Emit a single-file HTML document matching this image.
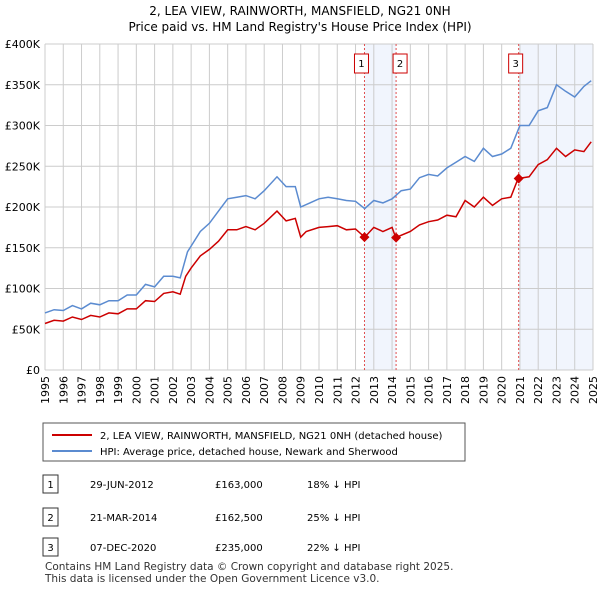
<!DOCTYPE html>
<html><head><meta charset="utf-8"><style>
body{margin:0;background:#fff;font-family:"Liberation Sans","DejaVu Sans",sans-serif;}
svg text{font-family:"DejaVu Sans","Liberation Sans",sans-serif;}
</style></head><body>
<svg id="chart" width="600" height="590" viewBox="0 0 600 590" xmlns="http://www.w3.org/2000/svg">
<text x="300" y="15" text-anchor="middle" font-size="12">2, LEA VIEW, RAINWORTH, MANSFIELD, NG21 0NH</text>
<text x="300" y="31" text-anchor="middle" font-size="12">Price paid vs. HM Land Registry's House Price Index (HPI)</text>
<g id="plot"></g>
<g>
<rect x="43" y="423" width="422" height="38" fill="#fff" stroke="#555"/>
<line x1="52" y1="435" x2="92" y2="435" stroke="#cc0000" stroke-width="2"/>
<text x="100" y="439" font-size="10">2, LEA VIEW, RAINWORTH, MANSFIELD, NG21 0NH (detached house)</text>
<line x1="52" y1="451" x2="92" y2="451" stroke="#5b8bd0" stroke-width="2"/>
<text x="100" y="455" font-size="10">HPI: Average price, detached house, Newark and Sherwood</text>
</g>
<g id="table"></g>
<text x="45" y="570" font-size="10.5" fill="#333">Contains HM Land Registry data © Crown copyright and database right 2025.</text>
<text x="45" y="582" font-size="10.5" fill="#333">This data is licensed under the Open Government Licence v3.0.</text>
</svg>
<script>
const hpiX=[1995,1995.5,1996,1996.5,1997,1997.5,1998,1998.5,1999,1999.5,2000,2000.5,2001,2001.5,2002,2002.4,2002.8,2003,2003.5,2004,2004.5,2005,2005.5,2006,2006.5,2007,2007.7,2008.2,2008.7,2009,2009.5,2010,2010.5,2011,2011.5,2012,2012.5,2013,2013.5,2014,2014.5,2015,2015.5,2016,2016.5,2017,2017.5,2018,2018.5,2019,2019.5,2020,2020.5,2021,2021.5,2022,2022.5,2023,2023.5,2024,2024.5,2024.9];
const hpiY=[70,74,73,79,75,82,80,85,85,92,92,105,102,115,115,113,145,152,170,180,195,210,212,214,210,220,237,225,225,200,205,210,212,210,208,207,198,208,205,210,220,222,236,240,238,248,255,262,256,272,262,265,272,300,300,318,322,350,342,335,348,355];
const redX=[1995,1995.5,1996,1996.5,1997,1997.5,1998,1998.5,1999,1999.5,2000,2000.5,2001,2001.5,2002,2002.4,2002.7,2003,2003.5,2004,2004.5,2005,2005.5,2006,2006.5,2007,2007.7,2008.2,2008.7,2009,2009.3,2010,2010.5,2011,2011.5,2012,2012.5,2013,2013.5,2014,2014.2,2015,2015.5,2016,2016.5,2017,2017.5,2018,2018.5,2019,2019.5,2020,2020.5,2020.9,2021.5,2022,2022.5,2023,2023.5,2024,2024.5,2024.9];
const redY=[57,61,60,65,62,67,65,70,69,75,75,85,84,94,96,93,115,125,140,148,158,172,172,176,172,180,195,183,186,163,170,175,176,177,172,173,163,175,170,175,162.5,170,178,182,184,190,188,208,200,212,202,210,212,235,237,252,258,272,262,270,268,280];
const saleX=[2012.49,2014.22,2020.93];
const saleY=[163,162.5,235];
const saleLabels=["1","2","3"];
const saleDates=["29-JUN-2012","21-MAR-2014","07-DEC-2020"];
const salePrices=["£163,000","£162,500","£235,000"];
const saleHpi=["18% ↓ HPI","25% ↓ HPI","22% ↓ HPI"];
const yTicks=[0,50,100,150,200,250,300,350,400];
const yTickLabels=["£0","£50K","£100K","£150K","£200K","£250K","£300K","£350K","£400K"];
const years=[];for(let y=1995;y<=2025;y++)years.push(y);
const NS="http://www.w3.org/2000/svg";
const L=45,R=593,T=44,B=370;
const sx=v=>L+(v-1995)/30*(R-L);
const sy=v=>B-v/400*(B-T);
function mk(tag,attrs,parent){const e=document.createElementNS(NS,tag);for(const k in attrs)e.setAttribute(k,attrs[k]);parent.appendChild(e);return e;}
const plot=document.getElementById('plot');
// shading
let sh=mk('rect',{x:sx(saleX[0]),y:T,width:sx(saleX[1])-sx(saleX[0]),height:B-T,fill:'#eef3fc',opacity:0.8},plot);


let sh2=mk('rect',{x:sx(saleX[2]),y:T,width:R-sx(saleX[2]),height:B-T,fill:'#eef3fc',opacity:0.8},plot);


years.forEach(y=>{
 const g=mk('line',{x1:sx(y),x2:sx(y),y1:T,y2:B,stroke:'#cccccc','stroke-width':1},plot);
 
 
 const t=mk('text',{x:0,y:0,'font-size':11,'text-anchor':'end',transform:`translate(${sx(y)+4},376) rotate(-90)`},plot);
 t.textContent=y;
 
 
});
yTicks.forEach((v,i)=>{
 const g=mk('line',{x1:L,x2:R,y1:sy(v),y2:sy(v),stroke:'#cccccc','stroke-width':1},plot);
 
 
 const t=mk('text',{x:L-5,y:sy(v)+4,'font-size':11,'text-anchor':'end'},plot);
 t.textContent=yTickLabels[i];
 
 
});
saleX.forEach((x,i)=>{
 const l=mk('line',{x1:sx(x),x2:sx(x),y1:T,y2:B,stroke:'#e05050','stroke-width':1,'stroke-dasharray':'2,2'},plot);
 
 
});
const path=(xs,ys)=>xs.map((x,i)=>(i?'L':'M')+sx(x).toFixed(1)+','+sy(ys[i]).toFixed(1)).join('');
const hp=mk('path',{d:path(hpiX,hpiY),fill:'none',stroke:'#5b8bd0','stroke-width':1.5},plot);


const rp=mk('path',{d:path(redX,redY),fill:'none',stroke:'#cc0000','stroke-width':1.5},plot);


saleX.forEach((x,i)=>{
 const cx=sx(x),cy=sy(saleY[i]);
 const d=mk('path',{d:`M${cx},${cy-5}L${cx+5},${cy}L${cx},${cy+5}L${cx-5},${cy}Z`,fill:'#cc0000'},plot);
 
 
 const bx=cx-[10,-1,10][i]-(i==1?0:0);
 const rx=i==1?cx-3:cx-10;
 const b=mk('rect',{x:rx,y:54,width:14,height:19,fill:'#fff',stroke:'#cc0000'},plot);
 
 
 const t=mk('text',{x:rx+7,y:67,'font-size':10,'text-anchor':'middle'},plot);
 t.textContent=saleLabels[i];
 
 
});
const tb=document.getElementById('table');
const rowY=[484,517,547];
rowY.forEach((y,i)=>{
 const b=mk('rect',{x:43,y:y-9,width:15,height:18,fill:'#fff',stroke:'#333'},tb);
 
 
 const cols=[[50.5,saleLabels[i],'middle'],[90,saleDates[i],'start'],[215,salePrices[i],'start'],[307,saleHpi[i],'start']];
 cols.forEach((c,j)=>{
  const t=mk('text',{x:c[0],y:y+4,'font-size':10,'text-anchor':c[2]},tb);
  t.textContent=c[1];
  
  
 });
});
</script>
</body></html>
